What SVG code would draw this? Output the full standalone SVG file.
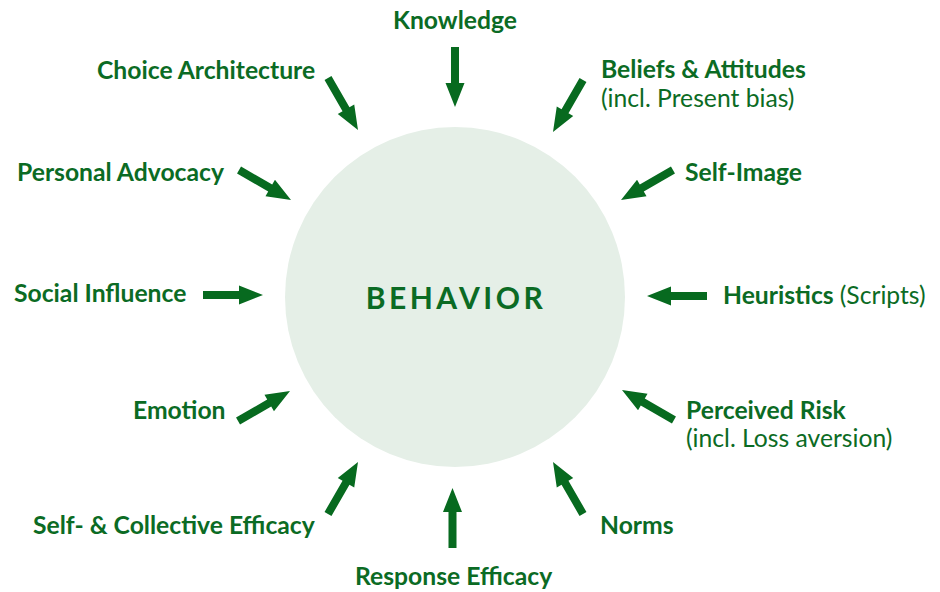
<svg xmlns="http://www.w3.org/2000/svg" xmlns:xlink="http://www.w3.org/1999/xlink" width="940" height="592" viewBox="0 0 940 592">
<style>
.lbl{font-family:Lato,"Noto Sans","Liberation Sans",sans-serif;font-size:24.7px;font-weight:700;fill:#0b6b24}
.reg{font-weight:400}
.arr{fill:#076a1f}
.core{fill:#e5efe7}
.title{font-family:Lato,"Noto Sans","Liberation Sans",sans-serif;font-size:30px;font-weight:700;fill:#0b6b24;letter-spacing:3.5px}
</style>
<defs>
<polygon id="arrow" points="-60,-4 -24,-4 -24,-9.5 0,0 -24,9.5 -24,4 -60,4"/>
</defs>
<rect width="940" height="592" fill="#fff"/>
<g id="behavior">
<circle class="core" cx="455" cy="297" r="170"/>
<text class="title" x="456" y="309" text-anchor="middle">BEHAVIOR</text>
</g>
<g id="connectors" class="arr">
<use xlink:href="#arrow" transform="translate(455 107) rotate(90)"/>
<use xlink:href="#arrow" transform="translate(553 132) rotate(120)"/>
<use xlink:href="#arrow" transform="translate(621 200) rotate(150)"/>
<use xlink:href="#arrow" transform="translate(647 296) rotate(180)"/>
<use xlink:href="#arrow" transform="translate(622 390) rotate(210)"/>
<use xlink:href="#arrow" transform="translate(553 462) rotate(240)"/>
<use xlink:href="#arrow" transform="translate(452.5 488) rotate(270)"/>
<use xlink:href="#arrow" transform="translate(358 462) rotate(300)"/>
<use xlink:href="#arrow" transform="translate(290 391) rotate(330)"/>
<use xlink:href="#arrow" transform="translate(263 295) rotate(0)"/>
<use xlink:href="#arrow" transform="translate(291 200) rotate(30)"/>
<use xlink:href="#arrow" transform="translate(358 130) rotate(60)"/>
</g>
<g id="knowledge"><text class="lbl" x="393" y="29">Knowledge</text></g>
<g id="beliefs"><text class="lbl" x="601" y="78">Beliefs &amp; Attitudes</text><text class="lbl reg" x="601" y="107">(incl. Present bias)</text></g>
<g id="self-image"><text class="lbl" x="685" y="181">Self-Image</text></g>
<g id="heuristics"><text class="lbl" x="723" y="304">Heuristics <tspan class="reg">(Scripts)</tspan></text></g>
<g id="perceived-risk"><text class="lbl" x="686" y="419">Perceived Risk</text><text class="lbl reg" x="686" y="447">(incl. Loss aversion)</text></g>
<g id="norms"><text class="lbl" x="600" y="534">Norms</text></g>
<g id="response-efficacy"><text class="lbl" x="355" y="585">Response Efficacy</text></g>
<g id="self-collective-efficacy"><text class="lbl" x="33" y="534">Self- &amp; Collective Efficacy</text></g>
<g id="emotion"><text class="lbl" x="133" y="419">Emotion</text></g>
<g id="social-influence"><text class="lbl" x="14" y="302">Social Influence</text></g>
<g id="personal-advocacy"><text class="lbl" x="17" y="181">Personal Advocacy</text></g>
<g id="choice-architecture"><text class="lbl" x="97" y="79">Choice Architecture</text></g>
</svg>
